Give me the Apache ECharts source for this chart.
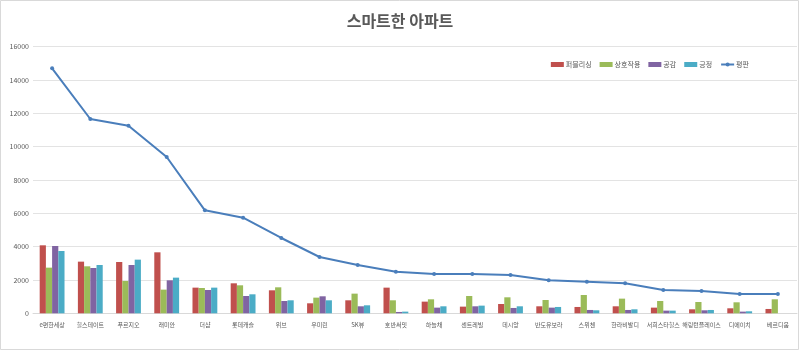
<!DOCTYPE html>
<html>
<head>
<meta charset="utf-8">
<script src="https://cdn.jsdelivr.net/npm/echarts@6/dist/echarts.min.js"></script>
<style>
html,body{margin:0;padding:0;background:#fff;}
#c{width:800px;height:351px;}
</style>
</head>
<body>
<div id="c"></div>
<script>
const categories = ['e편한세상','힐스테이트','푸르지오','래미안','더샵','롯데캐슬','위브','우미린','SK뷰','호반써밋','하늘채','센트레빌','데시앙','반도유보라','스위첸','한라비발디','서희스타힐스','해링턴플레이스','디에이치','베르디움'];
const publishing = [4080,3100,3080,3660,1540,1800,1380,600,780,1540,700,400,560,420,380,420,340,240,300,260];
const interaction = [2740,2820,1940,1420,1520,1680,1560,940,1180,780,840,1040,960,800,1100,880,740,680,660,840];
const empathy = [4040,2720,2900,1980,1400,1040,740,1020,420,80,340,420,320,340,200,200,160,180,100,0];
const positive = [3740,2900,3220,2140,1540,1140,780,780,480,100,420,460,420,380,180,240,160,200,120,0];
const reputation = [14700,11660,11260,9380,6180,5740,4520,3380,2900,2500,2360,2360,2300,1980,1900,1800,1400,1340,1160,1160];
const yTicks = {min:0, max:16000, interval:2000};

const chart = echarts.init(document.getElementById('c'), null, {renderer:'canvas'});
const font = "'Noto Sans CJK KR', 'Noto Sans', sans-serif";
const barSeries = (name, data, color) => ({
  name, type:'bar', data, barGap:'0%', barCategoryGap:'35%',
  itemStyle:{color}, emphasis:{disabled:true}
});
chart.setOption({
  animation:false,
  backgroundColor:'#ffffff',
  textStyle:{fontFamily:font},
  graphic:[{type:'rect', shape:{x:0.5,y:0.5,width:798,height:349}, style:{fill:'none', stroke:'#d9d9d9', lineWidth:1}, silent:true}],
  title:{text:'스마트한 아파트', left:'center', top:8, textStyle:{fontFamily:font, fontSize:16, fontWeight:'bold', color:'#595959'}},
  legend:{
    right:46, top:56, itemWidth:13, itemHeight:5, itemGap:8,
    textStyle:{fontFamily:font, fontSize:7, color:'#595959', padding:[0,0,0,-3]},
    data:[
      {name:'퍼블리싱', icon:'rect'},
      {name:'상호작용', icon:'rect'},
      {name:'공감', icon:'rect'},
      {name:'긍정', icon:'rect'},
      {name:'평판'}
    ]
  },
  grid:{left:33, right:3, top:46.7, bottom:37.7, containLabel:false},
  xAxis:{
    type:'category', data:categories,
    axisLine:{lineStyle:{color:'#d9d9d9'}},
    axisTick:{show:false},
    axisLabel:{fontFamily:font, fontSize:6, color:'#595959', margin:8, interval:0}
  },
  yAxis:{
    type:'value', min:yTicks.min, max:yTicks.max, interval:yTicks.interval,
    axisLine:{show:false}, axisTick:{show:false},
    splitLine:{lineStyle:{color:'#e3e3e3'}},
    axisLabel:{fontFamily:font, fontSize:7, color:'#595959', margin:4, formatter:v => String(v)}
  },
  series:[
    barSeries('퍼블리싱', publishing, '#c0504d'),
    barSeries('상호작용', interaction, '#9bbb59'),
    barSeries('공감', empathy, '#8064a2'),
    barSeries('긍정', positive, '#4bacc6'),
    {name:'평판', type:'line', data:reputation, symbol:'circle', symbolSize:4,
     lineStyle:{color:'#4a7ebb', width:2}, itemStyle:{color:'#4a7ebb'}, emphasis:{disabled:true}}
  ]
});
</script>
</body>
</html>
